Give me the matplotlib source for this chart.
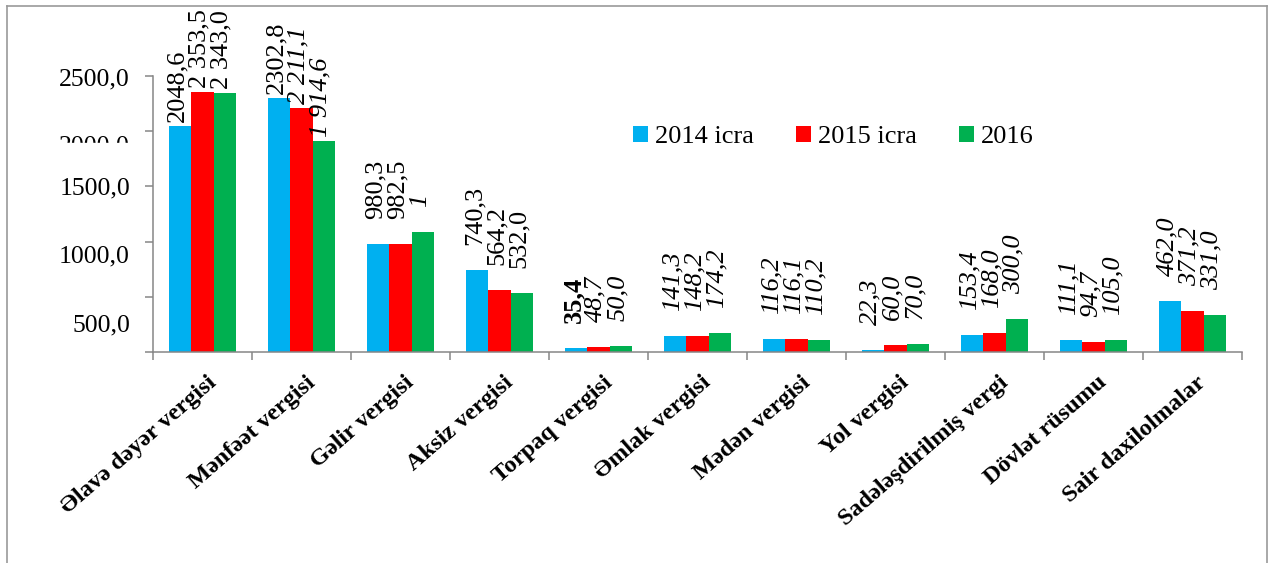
import matplotlib
matplotlib.use("Agg")
import numpy as np
import matplotlib.pyplot as plt
from matplotlib.lines import Line2D
from matplotlib.patches import Rectangle

# Vergi növləri (mln. manat)
categories = [
    "Əlavə dəyər vergisi", "Mənfəət vergisi", "Gəlir vergisi", "Aksiz vergisi",
    "Torpaq vergisi", "Əmlak vergisi", "Mədən vergisi", "Yol vergisi",
    "Sadələşdirilmiş vergi", "Dövlət rüsumu", "Sair daxilolmalar",
]
series_names = ["2014 icra", "2015 icra", "2016"]

values_2014 = [2048.6, 2302.8, 980.3, 740.3, 35.4, 141.3, 116.2, 22.3, 153.4, 111.1, 462.0]
values_2015 = [2353.5, 2211.1, 982.5, 564.2, 48.7, 148.2, 116.1, 60.0, 168.0, 94.7, 371.2]
values_2016 = [2343.0, 1914.6, 1087.0, 532.0, 50.0, 174.2, 110.2, 70.0, 300.0, 105.0, 331.0]

labels_2014 = ["2048,6", "2302,8", "980,3", "740,3", "35,4", "141,3", "116,2", "22,3", "153,4", "111,1", "462,0"]
labels_2015 = ["2 353,5", "2 211,1", "982,5", "564,2", "48,7", "148,2", "116,1", "60,0", "168,0", "94,7", "371,2"]
labels_2016 = ["2 343,0", "1 914,6", "1", "532,0", "50,0", "174,2", "110,2", "70,0", "300,0", "105,0", "331,0"]

yticks = [0, 500, 1000, 1500, 2000, 2500]
ytick_labels = ["", "500,0", "1000,0", "1500,0", "2000,0", "2500,0"]

colors = ["#00B0F0", "#FF0000", "#00B050"]

# label styles: "n" upright, "i" italic, "b" bold
style_2014 = ["n", "n", "n", "n", "b", "i", "i", "i", "i", "i", "i"]
style_2015 = ["n", "i", "n", "n", "i", "i", "i", "i", "i", "i", "i"]
style_2016 = ["n", "i", "i", "n", "i", "i", "i", "i", "i", "i", "i"]

plt.rcParams["font.family"] = ["Liberation Serif", "DejaVu Serif"]

W, H = 1274, 563
fig = plt.figure(figsize=(W / 100, H / 100), dpi=100)
ax = fig.add_axes([153 / W, 1 - 352 / H, 1089 / W, 276 / H])

x = np.arange(len(categories))
bw = 0.225
all_vals = [values_2014, values_2015, values_2016]
all_labels = [labels_2014, labels_2015, labels_2016]
all_styles = [style_2014, style_2015, style_2016]

for k in range(3):
    xs = x + (k - 1) * bw
    ax.bar(xs, all_vals[k], width=bw, color=colors[k], label=series_names[k], zorder=2)
    for xi, v, txt, st in zip(xs, all_vals[k], all_labels[k], all_styles[k]):
        off = 4 if v > 1800 else 25
        ax.annotate(
            txt, xy=(xi, v), xytext=(-3, off), textcoords="offset pixels",
            rotation=90, ha="center", va="bottom", fontsize=19,
            fontstyle="normal" if st in ("n", "b") else "italic",
            fontweight="bold" if st == "b" else "normal",
            annotation_clip=False, zorder=3,
        )

ax.set_xlim(-0.5, len(categories) - 0.5)
ax.set_ylim(0, 2500)
ax.set_xticks(np.arange(len(categories) + 1) - 0.5)
ax.set_xticklabels([])
ax.set_yticks(yticks)
ax.set_yticklabels([])
ax.tick_params(axis="both", length=6, width=1.1, color="#868686", direction="out")

for s in ["top", "right"]:
    ax.spines[s].set_visible(False)
for s in ["left", "bottom"]:
    ax.spines[s].set_color("#868686")
    ax.spines[s].set_linewidth(1.1)

# y tick labels (placed as in the picture)
ylab_shift = [0, 29, 15, 2, 15, 3]
for t, lab, sh in zip(yticks, ytick_labels, ylab_shift):
    if lab:
        ax.annotate(lab, xy=(0, t), xycoords=ax.get_yaxis_transform(),
                    xytext=(-23, -sh), textcoords="offset pixels",
                    ha="right", va="center", fontsize=18.5, annotation_clip=False)

# category labels
for i, c in enumerate(categories):
    ax.annotate(c, xy=(i, 0), xytext=(4, -20), textcoords="offset pixels",
                rotation=41, rotation_mode="anchor", ha="right", va="top",
                fontsize=17.5, fontweight="bold", annotation_clip=False)

leg = ax.legend(
    ncol=3, frameon=False, fontsize=19, loc="center left",
    bbox_to_anchor=(633 / W, 1 - 137 / H), bbox_transform=fig.transFigure,
    borderpad=0, borderaxespad=0, handlelength=0.55, handleheight=0.55,
    handletextpad=0.28, columnspacing=1.6,
)

# the "2000,0" label is partly hidden in the original
fig.patches.append(Rectangle((50 / W, 1 - 160 / H), 90 / W, 17 / H,
                             transform=fig.transFigure, color="white", zorder=5))

# outer chart frame
fc = "#999999"
fig.add_artist(Line2D([7 / W, 7 / W], [0, 1 - 6 / H], color=fc, lw=1.2))
fig.add_artist(Line2D([7 / W, 1267 / W], [1 - 6 / H, 1 - 6 / H], color=fc, lw=1.2))
fig.add_artist(Line2D([1267 / W, 1267 / W], [0, 1 - 6 / H], color=fc, lw=1.2))

fig.savefig("out.png", dpi=100)
